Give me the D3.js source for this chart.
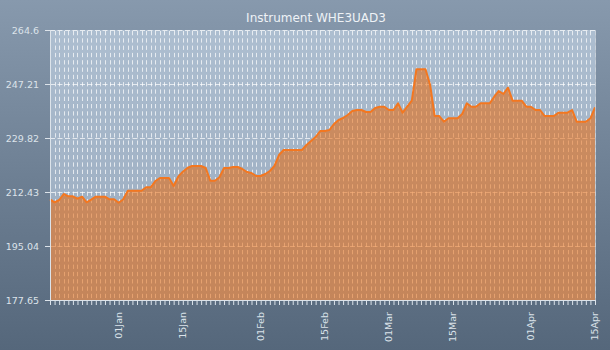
<!DOCTYPE html>
<html><head><meta charset="utf-8">
<script src="https://cdn.jsdelivr.net/npm/d3@7"></script>
<style>html,body{margin:0;padding:0;background:#6f8297;} svg{display:block;}</style>
</head><body><svg id="c" width="610" height="350"></svg>
<script>
const title = "Instrument WHE3UAD3";
const startDate = "2014-12-17";
const values = [
210.08,209.11,209.85,211.79,211.05,211.05,210.27,210.92,209.11,209.95,
210.92,210.92,210.92,210.08,210.08,208.98,210.08,212.85,212.85,212.85,
212.85,213.94,213.94,215.97,216.94,216.94,216.94,214.36,217.36,218.97,
220.16,220.80,220.80,220.80,220.16,216.07,216.07,217.16,220.16,220.16,
220.48,220.48,219.84,218.87,218.55,217.58,217.58,218.23,219.19,220.80,
224.34,225.96,225.96,225.96,225.96,225.96,227.57,228.85,230.14,232.07,
232.07,232.40,234.33,235.62,236.26,237.23,238.51,238.84,238.84,238.19,
238.19,239.48,239.90,239.90,238.84,238.84,240.99,237.97,239.90,241.83,
251.94,251.94,251.94,246.89,236.90,236.90,235.07,236.16,236.16,236.16,
237.55,240.99,239.90,239.90,240.99,240.99,240.99,243.12,244.96,243.99,
246.02,241.83,241.83,241.83,239.90,239.90,238.84,238.84,236.90,236.90,
236.90,237.97,237.97,237.97,238.84,235.07,235.07,235.07,236.16,239.71
];
const yTicks = [177.65, 195.04, 212.43, 229.82, 247.21, 264.6];
const yTickLabels = ["177.65", "195.04", "212.43", "229.82", "247.21", "264.6"];
const xLabelDates = ["2015-01-01","2015-01-15","2015-02-01","2015-02-15","2015-03-01","2015-03-15","2015-04-01","2015-04-15"];

const W = 610, H = 350;
const m = {l: 50, r: 15, t: 30, b: 50};
const parse = d3.utcParse("%Y-%m-%d");
const t0 = parse(startDate);
const data = values.map((v, i) => ({date: d3.utcDay.offset(t0, i), value: v}));
const labelSet = new Set(xLabelDates.map(s => +parse(s)));

const x = d3.scaleUtc().domain(d3.extent(data, d => d.date)).range([m.l, W - m.r]);
const y = d3.scaleLinear().domain([yTicks[0], yTicks[yTicks.length - 1]]).range([H - m.b, m.t]);

const svg = d3.select("#c");
const defs = svg.append("defs");
const g1 = defs.append("linearGradient").attr("id", "bg").attr("x1", 0).attr("y1", 0).attr("x2", 0).attr("y2", 1);
g1.append("stop").attr("offset", "0%").attr("stop-color", "#8799ad");
g1.append("stop").attr("offset", "100%").attr("stop-color", "#55677b");
const g2 = defs.append("linearGradient").attr("id", "pbg").attr("x1", 0).attr("y1", 0).attr("x2", 0).attr("y2", 1);
g2.append("stop").attr("offset", "0%").attr("stop-color", "#adbed0");
g2.append("stop").attr("offset", "100%").attr("stop-color", "#98a9bd");

svg.append("rect").attr("width", W).attr("height", H).attr("fill", "url(#bg)");
svg.append("rect").attr("x", m.l).attr("y", m.t).attr("width", W - m.r - m.l).attr("height", H - m.b - m.t).attr("fill", "url(#pbg)");

// vertical grid (daily)
svg.append("g").selectAll("line").data(data).join("line")
  .attr("x1", d => Math.round(x(d.date)) + 0.5).attr("x2", d => Math.round(x(d.date)) + 0.5)
  .attr("y1", m.t + 1).attr("y2", H - m.b)
  .attr("stroke", "#ffffff").attr("stroke-opacity", 0.7)
  .attr("stroke-dasharray", "4.3,3");
// horizontal grid
svg.append("g").selectAll("line").data(yTicks.slice(1)).join("line")
  .attr("x1", m.l).attr("x2", W - m.r)
  .attr("y1", d => Math.round(y(d)) + 0.5).attr("y2", d => Math.round(y(d)) + 0.5)
  .attr("stroke", "#ffffff").attr("stroke-opacity", 0.7)
  .attr("stroke-dasharray", "5,2.5");

const area = d3.area().x(d => x(d.date)).y0(y(yTicks[0])).y1(d => y(d.value));
svg.append("path").datum(data).attr("d", area).attr("fill", "rgb(233,104,10)").attr("fill-opacity", 0.55);
const line = d3.line().x(d => x(d.date)).y(d => y(d.value));
svg.append("path").datum(data).attr("d", line).attr("fill", "none").attr("stroke", "#f37720").attr("stroke-width", 2).attr("stroke-linejoin", "round");

// right border
svg.append("line").attr("x1", W - m.r + 0.5).attr("x2", W - m.r + 0.5).attr("y1", m.t).attr("y2", H - m.b)
  .attr("stroke", "#c3ccd6").attr("stroke-opacity", 0.8);

const axCol = "#dce3ea";
const fontFam = "'DejaVu Sans', Verdana, sans-serif";
const yAxis = svg.append("g").attr("transform", `translate(${m.l},0)`)
  .call(d3.axisLeft(y).tickValues(yTicks).tickSize(5).tickPadding(6).tickFormat((d, i) => yTickLabels[i]));
yAxis.selectAll("path,line").attr("stroke", axCol);
yAxis.selectAll("text").attr("fill", axCol).style("font-family", fontFam).style("font-size", "9.5px");

const xAxis = svg.append("g").attr("transform", `translate(0,${H - m.b})`)
  .call(d3.axisBottom(x).tickValues(data.map(d => d.date)).tickSize(5)
    .tickFormat(d => labelSet.has(+d) ? d3.utcFormat("%d%b")(d) : ""));
xAxis.selectAll("path,line").attr("stroke", axCol);
xAxis.selectAll("text").attr("fill", axCol).style("font-family", fontFam).style("font-size", "9.5px")
  .attr("transform", "rotate(-90)").attr("x", -12).attr("y", -1).attr("dy", "0.35em").style("text-anchor", "end");

svg.append("text").attr("x", 316).attr("y", 22).attr("text-anchor", "middle")
  .attr("fill", "#eef2f6").style("font-family", fontFam).style("font-size", "12px").text(title);
</script></body></html>
